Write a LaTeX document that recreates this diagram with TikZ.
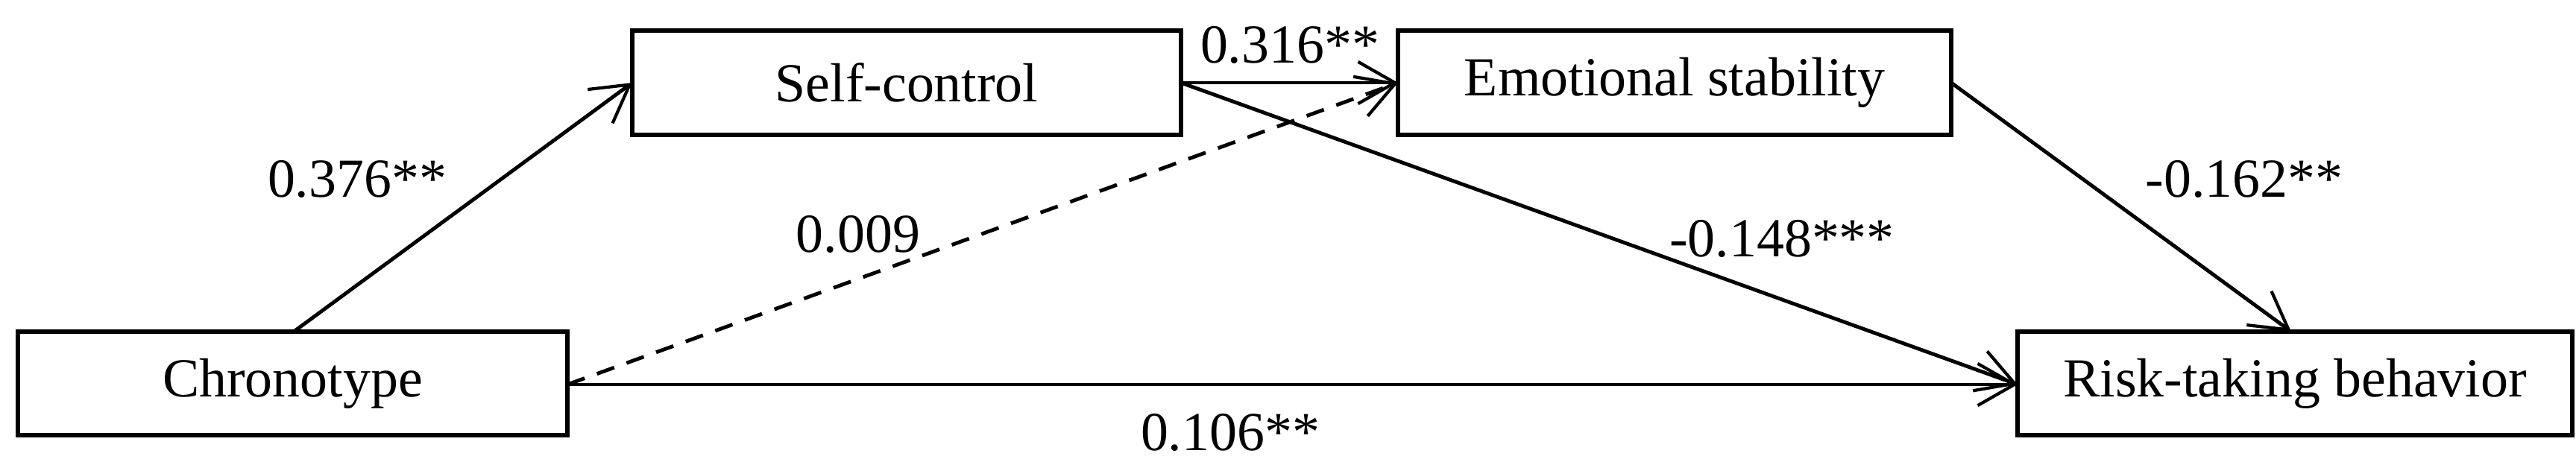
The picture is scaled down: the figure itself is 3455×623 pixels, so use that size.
\documentclass[tikz,border=0pt]{standalone}
\usepackage{fontspec}
\setmainfont{Liberation Serif}
\usetikzlibrary{arrows.meta}
\begin{document}
\begin{tikzpicture}[x=0.01cm,y=-0.01cm,
  box/.style={draw,line width=1.6pt,inner sep=0pt,font=\fontsize{21}{25}\selectfont},
  lbl/.style={font=\fontsize{21}{25}\selectfont,inner sep=0pt},
  arr/.style={-{Straight Barb[length=14pt,width=16pt,line width=1.2pt]},line width=1.4pt}]
\useasboundingbox (0,0) rectangle (3455,623);
\node[box] (chr) at (392.5,514.5) [minimum width=7.37cm,minimum height=1.39cm] {Chronotype};
\node[box] (sc) at (1216,111) [minimum width=7.36cm,minimum height=1.40cm] {Self-control};
\node[box] (es) at (2246,111) [minimum width=7.42cm,minimum height=1.40cm] {Emotional stability};
\node[box] (rt) at (3078,514.5) [minimum width=7.44cm,minimum height=1.39cm] {Risk-taking behavior};
\coordinate (chrT) at (394,445);
\coordinate (chrR) at (761,516);
\coordinate (scL) at (848,111);
\coordinate (scR) at (1584,111);
\coordinate (esL) at (1875,111);
\coordinate (esR) at (2617,111);
\coordinate (rtL) at (2706,516);
\coordinate (rtT) at (3073,445);
\draw[arr] (chrT) -- (scL);
\draw[arr] (scR) -- (esL);
\draw[arr] (scR) -- (rtL);
\draw[arr,dash pattern=on 7pt off 5pt] (chrR) -- (esL);
\draw[arr] (chrR) -- (rtL);
\draw[arr] (esR) -- (rtT);
\node[lbl] (l1) at (479,240) {0.376**};
\node[lbl] (l2) at (1730,60) {0.316**};
\node[lbl] (l3) at (1151,314) {0.009};
\node[lbl] (l4) at (1650,580) {0.106**};
\node[lbl] (l5) at (3010,240) {-0.162**};
\node[lbl] (l6) at (2390,320) {-0.148***};
\end{tikzpicture}
\end{document}
